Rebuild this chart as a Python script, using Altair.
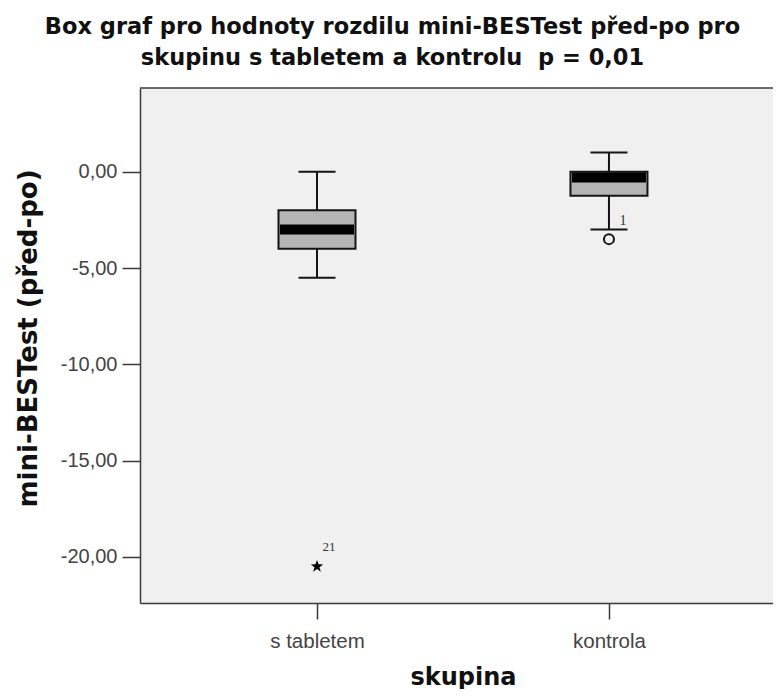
import altair as alt
import pandas as pd

# ---- data ----
groups = ["s tabletem", "kontrola"]
whisker_low = [-5.5, -3.0]
q1 = [-4.0, -1.25]
median = [-3.0, -0.3]
q3 = [-2.0, 0.0]
whisker_high = [0.0, 1.0]

out_group = ["s tabletem", "kontrola"]
out_value = [-20.5, -3.5]
out_case = ["21", "1"]
out_kind = ["extreme", "outlier"]

y_ticks = [0, -5, -10, -15, -20]
y_domain = [-22.4, 4.35]

title_lines = [
    "Box graf pro hodnoty rozdilu mini-BESTest před-po pro",
    "skupinu s tabletem a kontrolu\u00a0 p = 0,01",
]
x_title = "skupina"
y_title = "mini-BESTest (před-po)"

boxes = pd.DataFrame(dict(skupina=groups, lo=whisker_low, q1=q1, med=median, q3=q3, hi=whisker_high))
outs = pd.DataFrame(dict(skupina=out_group, val=out_value, case=out_case, kind=out_kind))

STAR = "M0,-1L0.235,-0.324L0.951,-0.309L0.38,0.124L0.588,0.809L0,0.4L-0.588,0.809L-0.38,0.124L-0.951,-0.309L-0.235,-0.324Z"
INK = "#141414"
AX = "#3a3a3a"

x_scale = alt.Scale(type="point", domain=groups, padding=0.584, align=0.519)
y_scale = alt.Scale(domain=y_domain, nice=False, zero=False)

x_axis = alt.Axis(
    title=x_title, labelAngle=0, labelFont="Liberation Sans", labelFontSize=20.5,
    labelColor="#444444", tickSize=16, labelPadding=12, tickColor=AX, tickWidth=1.5,
    domainColor=AX, domainWidth=1.5, titleFont="DejaVu Sans", titleFontSize=24,
    titleFontWeight="bold", titleColor="#111111", titleX=323, titleY=81,
    titleBaseline="alphabetic", titleAlign="center",
)
y_axis = alt.Axis(
    title=y_title, values=y_ticks, grid=False,
    labelExpr="replace(replace(format(datum.value, '.2f'), '.', ','), '\u2212', '-')",
    labelFont="Liberation Sans", labelFontSize=20, labelColor="#444444",
    tickSize=18, labelPadding=5, tickColor=AX, tickWidth=1.5,
    domainColor=AX, domainWidth=1.5, titleFont="DejaVu Sans", titleFontSize=26,
    titleFontWeight="bold", titleColor="#111111", titleX=-112, titleY=250,
    titleBaseline="middle", titleAlign="center",
)

X = alt.X("skupina:N", scale=x_scale, sort=groups, axis=x_axis)

def Y(field):
    return alt.Y(f"{field}:Q", scale=y_scale, axis=y_axis)

base = alt.Chart(boxes)

whisk_low = base.mark_rule(color=INK, strokeWidth=2, opacity=1).encode(x=X, y=Y("lo"), y2="q1:Q")
whisk_high = base.mark_rule(color=INK, strokeWidth=2, opacity=1).encode(x=X, y=Y("q3"), y2="hi:Q")
cap_low = base.mark_tick(color=INK, size=37, thickness=2, opacity=1).encode(x=X, y=Y("lo"))
cap_high = base.mark_tick(color=INK, size=37, thickness=2, opacity=1).encode(x=X, y=Y("hi"))
box = base.mark_bar(size=77, fill="#b4b4b4", stroke=INK, strokeWidth=2, opacity=1).encode(
    x=X, y=Y("q1"), y2="q3:Q"
)
med = base.mark_tick(color="#000000", size=74, thickness=10, opacity=1).encode(x=X, y=Y("med"))

obase = alt.Chart(outs)
star = obase.transform_filter("datum.kind == 'extreme'").mark_point(
    shape=STAR, filled=True, size=170, fill="#000000", strokeWidth=0, opacity=1
).encode(x=X, y=Y("val"))
circ = obase.transform_filter("datum.kind == 'outlier'").mark_point(
    shape="circle", filled=True, fill="#f0f0f0", stroke=INK, strokeWidth=2, size=100, opacity=1
).encode(x=X, y=Y("val"))
lab21 = obase.transform_filter("datum.kind == 'extreme'").mark_text(
    font="Liberation Serif", fontSize=13, fill="#333333", dx=12, dy=-19
).encode(x=X, y=Y("val"), text="case:N")
lab1 = obase.transform_filter("datum.kind == 'outlier'").mark_text(
    font="Liberation Serif", fontSize=14, fill="#333333", dx=14, dy=-18
).encode(x=X, y=Y("val"), text="case:N")

top_border = alt.Chart(pd.DataFrame({"a": [0]})).mark_rule(color=AX, strokeWidth=1.5).encode(
    x=alt.value(0), x2=alt.value(633), y=alt.value(0)
)

chart = alt.layer(
    whisk_low, whisk_high, cap_low, cap_high, box, med, star, circ, lab21, lab1, top_border
).properties(
    width=633,
    height=515,
    title=alt.TitleParams(
        text=title_lines, font="DejaVu Sans", fontSize=22.5, fontWeight="bold",
        color="#111111", anchor="middle", frame="group", offset=18, lineHeight=31, dx=-64,
    ),
    autosize=alt.AutoSizeParams(type="none"),
    padding={"left": 132, "top": 80, "right": 0, "bottom": 86},
    background="#ffffff",
).configure_view(fill="#f0f0f0", stroke="transparent")

chart.save("out.html", embed_options={"renderer": "svg", "actions": False})
